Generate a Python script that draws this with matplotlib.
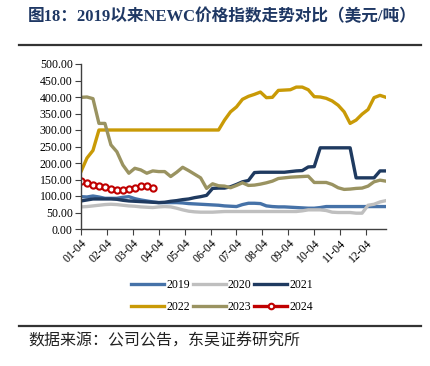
import numpy as np
import matplotlib
matplotlib.use('Agg')
import matplotlib.pyplot as plt
from matplotlib.lines import Line2D

plt.rcParams['font.family'] = ['Liberation Serif', 'Noto Sans CJK SC']

# weekly NEWC price index, USD/t
weeks = np.arange(52)
y2019 = [98, 97, 100, 97, 93, 93, 93, 96, 98, 92, 88, 85, 82, 80, 80, 80, 80, 79,
         77, 76, 75, 74, 73, 72, 70, 69, 68, 74, 78, 78, 77, 70, 68, 67, 67, 66,
         65, 64, 63, 63, 65, 68, 68, 68, 68, 68, 68, 68, 68, 68, 68, 68]
y2020 = [67, 68, 70, 72, 74, 75, 74, 72, 70, 69, 67, 66, 65, 67, 68, 67, 63, 58,
         54, 52, 51, 51, 51, 52, 53, 53, 53, 53, 53, 53, 53, 53, 53, 53, 53, 53,
         53, 55, 58, 58, 58, 56, 51, 50, 50, 50, 48, 48, 72, 75, 82, 86]
y2021 = [85, 88, 91, 91, 91, 91, 90, 87, 85, 84, 83, 82, 81, 80, 81, 84, 86, 89,
         91, 95, 98, 102, 123, 124, 124, 128, 135, 143, 147, 171, 172, 172, 172,
         172, 172, 174, 176, 177, 188, 189, 246, 246, 246, 246, 246, 246, 155,
         155, 155, 155, 176, 176]
y2022 = [174, 215, 238, 300, 300, 300, 300, 300, 300, 300, 300, 300, 300, 300,
         300, 300, 300, 300, 300, 300, 300, 300, 300, 300, 330, 355, 370, 393,
         402, 408, 415, 398, 399, 420, 421, 422, 430, 430, 422, 401, 400, 396,
         388, 375, 355, 320, 330, 348, 362, 398, 405, 399]
y2023 = [399, 400, 395, 320, 320, 255, 234, 194, 169, 184, 179, 169, 176, 174,
         174, 159, 172, 187, 177, 166, 155, 123, 137, 131, 130, 125, 132, 140,
         132, 133, 136, 140, 145, 153, 155, 157, 158, 159, 160, 141, 141, 141,
         135, 125, 120, 121, 123, 124, 130, 143, 148, 145]
y2024 = [144, 138, 134, 131, 126, 120, 117, 119, 120, 124, 129, 131, 125]

month_labels = ['01-04', '02-04', '03-04', '04-04', '05-04', '06-04',
                '07-04', '08-04', '09-04', '10-04', '11-04', '12-04']

colors = {'2019': '#4672A8', '2020': '#BFBFBF', '2021': '#1F3A60',
          '2022': '#C99A06', '2023': '#9A9361', '2024': '#C00000'}

fig = plt.figure(figsize=(4.3, 3.66), dpi=100)
ax = fig.add_axes([81 / 430, 1 - 229 / 366, 305 / 430, 165 / 366])

lw = 2.4
ax.plot(weeks, y2019, color=colors['2019'], lw=lw)
ax.plot(weeks, y2020, color=colors['2020'], lw=lw)
ax.plot(weeks, y2021, color=colors['2021'], lw=lw)
ax.plot(weeks, y2022, color=colors['2022'], lw=lw)
ax.plot(weeks, y2023, color=colors['2023'], lw=lw)
ax.plot(weeks[:len(y2024)], y2024, color=colors['2024'], lw=lw, marker='o',
        markersize=4.5, markerfacecolor='white', markeredgecolor=colors['2024'],
        markeredgewidth=1.5)

ax.set_xlim(0, 51)
ax.set_ylim(0, 500)
ax.set_yticks(np.arange(0, 501, 50))
ax.set_yticklabels([f'{v:.2f}' for v in np.arange(0, 501, 50)], fontsize=8.5)
ax.set_xticks([k * 52 / 12 for k in range(12)])
ax.set_xticklabels(month_labels, fontsize=8.5, rotation=45, ha='right',
                   rotation_mode='anchor')
for s in ['top', 'right']:
    ax.spines[s].set_visible(False)
for s in ['left', 'bottom']:
    ax.spines[s].set_color('#404040')
    ax.spines[s].set_linewidth(1.0)
ax.tick_params(axis='both', direction='out', length=4, color='#404040', pad=2)

# legend: two rows of three
order = ['2019', '2022', '2020', '2023', '2021', '2024']
handles = []
for k in order:
    if k == '2024':
        h = Line2D([], [], color=colors[k], lw=lw, marker='o', markersize=4,
                   markerfacecolor='white', markeredgecolor=colors[k],
                   markeredgewidth=1.5)
    else:
        h = Line2D([], [], color=colors[k], lw=lw)
    handles.append(h)
fig.legend(handles, order, ncol=3, loc='center', bbox_to_anchor=(222 / 430, 1 - 296 / 366),
           frameon=False, fontsize=8.5, handlelength=2.8, handletextpad=0.15,
           columnspacing=0.25, labelspacing=0.85, borderaxespad=0)

# title and rules
fig.text(28 / 430, 1 - 17 / 366, '图18：2019以来NEWC价格指数走势对比（美元/吨）',
         fontsize=12, fontweight='bold', color='#1F3864', va='center', ha='left')
fig.add_artist(Line2D([19 / 430, 421 / 430], [1 - 45 / 366, 1 - 45 / 366],
                      color='#333333', lw=1.6))
fig.add_artist(Line2D([19 / 430, 421 / 430], [1 - 326 / 366, 1 - 326 / 366],
                      color='#333333', lw=1.6))
fig.text(28 / 430, 1 - 341 / 366, '数据来源：公司公告，东吴证券研究所',
         fontsize=11.5, color='#222222', va='center', ha='left',
         family=['Noto Sans CJK SC'])

fig.savefig('out.png', dpi=100)
